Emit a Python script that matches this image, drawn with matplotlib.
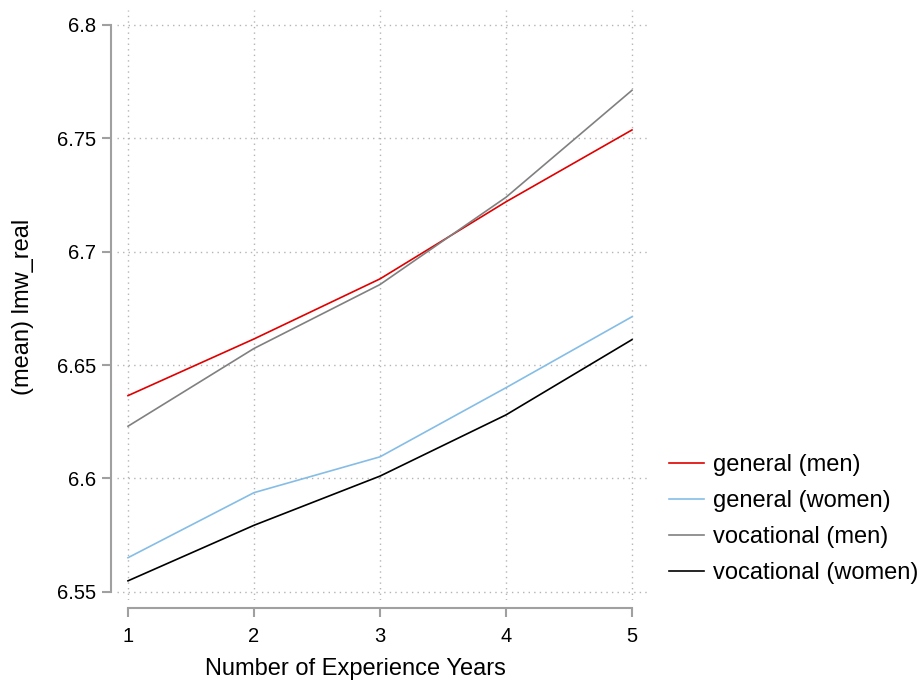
import matplotlib
matplotlib.use('Agg')
import matplotlib.pyplot as plt

plt.rcParams['font.family'] = ['Liberation Sans', 'DejaVu Sans']

# Data
years = [1, 2, 3, 4, 5]
general_men = [6.6365, 6.6615, 6.688, 6.722, 6.7537]
general_women = [6.565, 6.5937, 6.6095, 6.640, 6.6713]
vocational_men = [6.623, 6.6573, 6.6855, 6.724, 6.7712]
vocational_women = [6.5548, 6.5793, 6.601, 6.628, 6.6612]

series = [('general (men)', general_men, '#e00000'),
          ('general (women)', general_women, '#85bde6'),
          ('vocational (men)', vocational_men, '#808080'),
          ('vocational (women)', vocational_women, '#000000')]

yticks = [6.55, 6.6, 6.65, 6.7, 6.75, 6.8]
ytick_labels = ['6.55', '6.6', '6.65', '6.7', '6.75', '6.8']

W, H = 922, 682
PX = 72 / 100  # points per pixel at dpi 100
fig = plt.figure(figsize=(W / 100, H / 100), dpi=100)
ax = fig.add_axes([117 / W, 1 - 600 / H, (650 - 117) / W, (600 - 10) / H])

for name, vals, col in series:
    ax.plot(years, vals, color=col, lw=1.2, label=name)

ax.set_xlim(1 - 11 / 126, 5 + 18 / 126)
ax.set_ylim(6.55 - 8.3 / 2270, 6.8 + 15 / 2270)
ax.set_xticks(years)
ax.set_yticks(yticks)
ax.set_yticklabels(ytick_labels)

ax.grid(True, color='#b4b4b4', lw=1.0, ls=(0, (1, 3)))
ax.set_axisbelow(True)

for s in ['top', 'right']:
    ax.spines[s].set_visible(False)
ax.spines['left'].set_position(('outward', 6 * PX))
ax.spines['bottom'].set_position(('outward', 8 * PX))
ax.spines['left'].set_bounds(6.55, 6.8)
ax.spines['bottom'].set_bounds(1, 5)
for s in ['left', 'bottom']:
    ax.spines[s].set_color('#a0a0a0')
    ax.spines[s].set_linewidth(1.5)

ax.tick_params(axis='both', colors='#a0a0a0', labelcolor='black',
               length=9 * PX, width=1.5, labelsize=14.5)
ax.tick_params(axis='x', pad=7)
ax.tick_params(axis='y', pad=4)

# axis titles placed in figure pixel coordinates
fig.text(355 / W, 1 - 669 / H, 'Number of Experience Years', fontsize=17,
         ha='center', va='center')
fig.text(23 / W, 1 - 307 / H, '(mean) lmw_real', fontsize=17,
         rotation=90, ha='center', va='center')

fig.legend(loc='upper left', bbox_to_anchor=(669 / W, 1 - 454 / H),
           frameon=False, fontsize=17, handlelength=1.48, handletextpad=0.38,
           labelspacing=0.6, borderpad=0, borderaxespad=0)

plt.savefig('out.png', dpi=100)
